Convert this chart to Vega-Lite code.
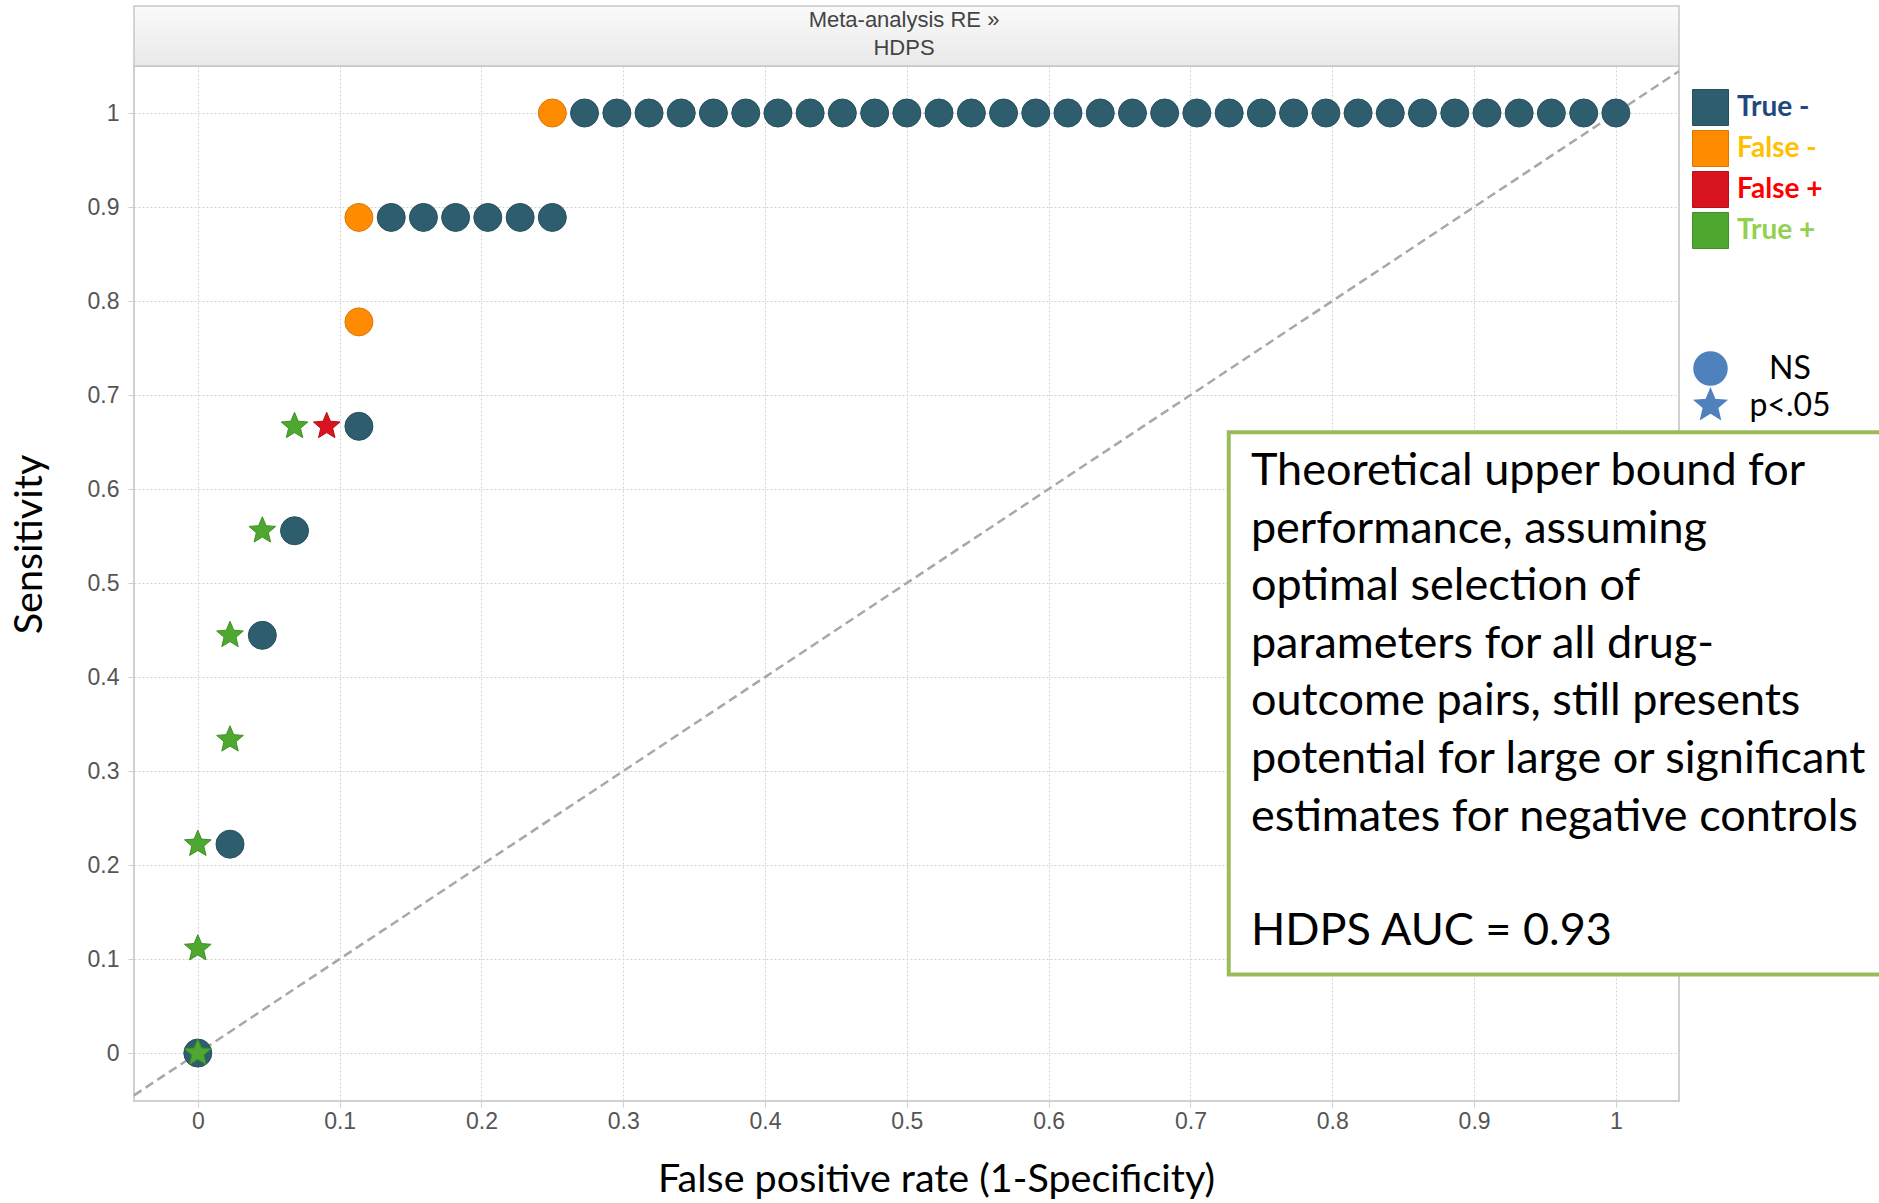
{
  "$schema": "https://vega.github.io/schema/vega-lite/v6.json",
  "width": 1545,
  "height": 1035,
  "autosize": {"type": "none"},
  "padding": {"left": 134, "top": 66, "right": 200, "bottom": 102},
  "background": "white",
  "config": {
    "view": {"stroke": "#d0d0d0", "strokeWidth": 2},
    "font": "Lato",
    "axis": {
      "labelFont": "Liberation Sans",
      "labelFontSize": 23,
      "labelColor": "#555555",
      "tickSize": 6,
      "tickColor": "#cfcfcf",
      "domain": false,
      "grid": true,
      "gridColor": "#d3d3d3",
      "gridDash": [2, 2],
      "gridWidth": 1,
      "titleFont": "Lato",
      "titleFontSize": 39.5,
      "titleFontWeight": "normal",
      "titleColor": "#000000"
    }
  },
  "datasets": {
    "roc": [
      {"fpr": 0.25, "sens": 1, "outcome": "False -", "signif": "NS"},
      {"fpr": 0.2727, "sens": 1, "outcome": "True -", "signif": "NS"},
      {"fpr": 0.2955, "sens": 1, "outcome": "True -", "signif": "NS"},
      {"fpr": 0.3182, "sens": 1, "outcome": "True -", "signif": "NS"},
      {"fpr": 0.3409, "sens": 1, "outcome": "True -", "signif": "NS"},
      {"fpr": 0.3636, "sens": 1, "outcome": "True -", "signif": "NS"},
      {"fpr": 0.3864, "sens": 1, "outcome": "True -", "signif": "NS"},
      {"fpr": 0.4091, "sens": 1, "outcome": "True -", "signif": "NS"},
      {"fpr": 0.4318, "sens": 1, "outcome": "True -", "signif": "NS"},
      {"fpr": 0.4545, "sens": 1, "outcome": "True -", "signif": "NS"},
      {"fpr": 0.4773, "sens": 1, "outcome": "True -", "signif": "NS"},
      {"fpr": 0.5, "sens": 1, "outcome": "True -", "signif": "NS"},
      {"fpr": 0.5227, "sens": 1, "outcome": "True -", "signif": "NS"},
      {"fpr": 0.5455, "sens": 1, "outcome": "True -", "signif": "NS"},
      {"fpr": 0.5682, "sens": 1, "outcome": "True -", "signif": "NS"},
      {"fpr": 0.5909, "sens": 1, "outcome": "True -", "signif": "NS"},
      {"fpr": 0.6136, "sens": 1, "outcome": "True -", "signif": "NS"},
      {"fpr": 0.6364, "sens": 1, "outcome": "True -", "signif": "NS"},
      {"fpr": 0.6591, "sens": 1, "outcome": "True -", "signif": "NS"},
      {"fpr": 0.6818, "sens": 1, "outcome": "True -", "signif": "NS"},
      {"fpr": 0.7045, "sens": 1, "outcome": "True -", "signif": "NS"},
      {"fpr": 0.7273, "sens": 1, "outcome": "True -", "signif": "NS"},
      {"fpr": 0.75, "sens": 1, "outcome": "True -", "signif": "NS"},
      {"fpr": 0.7727, "sens": 1, "outcome": "True -", "signif": "NS"},
      {"fpr": 0.7955, "sens": 1, "outcome": "True -", "signif": "NS"},
      {"fpr": 0.8182, "sens": 1, "outcome": "True -", "signif": "NS"},
      {"fpr": 0.8409, "sens": 1, "outcome": "True -", "signif": "NS"},
      {"fpr": 0.8636, "sens": 1, "outcome": "True -", "signif": "NS"},
      {"fpr": 0.8864, "sens": 1, "outcome": "True -", "signif": "NS"},
      {"fpr": 0.9091, "sens": 1, "outcome": "True -", "signif": "NS"},
      {"fpr": 0.9318, "sens": 1, "outcome": "True -", "signif": "NS"},
      {"fpr": 0.9545, "sens": 1, "outcome": "True -", "signif": "NS"},
      {"fpr": 0.9773, "sens": 1, "outcome": "True -", "signif": "NS"},
      {"fpr": 1, "sens": 1, "outcome": "True -", "signif": "NS"},
      {"fpr": 0.1136, "sens": 0.8889, "outcome": "False -", "signif": "NS"},
      {"fpr": 0.1364, "sens": 0.8889, "outcome": "True -", "signif": "NS"},
      {"fpr": 0.1591, "sens": 0.8889, "outcome": "True -", "signif": "NS"},
      {"fpr": 0.1818, "sens": 0.8889, "outcome": "True -", "signif": "NS"},
      {"fpr": 0.2045, "sens": 0.8889, "outcome": "True -", "signif": "NS"},
      {"fpr": 0.2273, "sens": 0.8889, "outcome": "True -", "signif": "NS"},
      {"fpr": 0.25, "sens": 0.8889, "outcome": "True -", "signif": "NS"},
      {"fpr": 0.1136, "sens": 0.7778, "outcome": "False -", "signif": "NS"},
      {"fpr": 0.1136, "sens": 0.6667, "outcome": "True -", "signif": "NS"},
      {"fpr": 0.0682, "sens": 0.5556, "outcome": "True -", "signif": "NS"},
      {"fpr": 0.0455, "sens": 0.4444, "outcome": "True -", "signif": "NS"},
      {"fpr": 0.0227, "sens": 0.2222, "outcome": "True -", "signif": "NS"},
      {"fpr": 0, "sens": 0, "outcome": "True -", "signif": "NS"},
      {"fpr": 0.0682, "sens": 0.6667, "outcome": "True +", "signif": "p<.05"},
      {"fpr": 0.0909, "sens": 0.6667, "outcome": "False +", "signif": "p<.05"},
      {"fpr": 0.0455, "sens": 0.5556, "outcome": "True +", "signif": "p<.05"},
      {"fpr": 0.0227, "sens": 0.4444, "outcome": "True +", "signif": "p<.05"},
      {"fpr": 0.0227, "sens": 0.3333, "outcome": "True +", "signif": "p<.05"},
      {"fpr": 0, "sens": 0.2222, "outcome": "True +", "signif": "p<.05"},
      {"fpr": 0, "sens": 0.1111, "outcome": "True +", "signif": "p<.05"},
      {"fpr": 0, "sens": 0, "outcome": "True +", "signif": "p<.05"}
    ]
  },
  "layer": [
    {
      "data": {"values": [{}]},
      "mark": {
        "type": "rect",
        "stroke": "#c8c8c8",
        "strokeWidth": 1.5,
        "fill": {
          "gradient": "linear",
          "x1": 0, "y1": 0, "x2": 0, "y2": 1,
          "stops": [
            {"offset": 0, "color": "#fafafa"},
            {"offset": 1, "color": "#e9e9e9"}
          ]
        }
      },
      "encoding": {
        "x": {"datum": -0.045, "type": "quantitative", "scale": {"domain": [-0.045, 1.0445], "nice": false, "zero": false}},
        "x2": {"datum": 1.0445},
        "y": {"datum": 1.05, "type": "quantitative", "scale": {"domain": [-0.051, 1.05], "nice": false, "zero": false}},
        "y2": {"datum": 1.1138}
      }
    },
    {
      "data": {"values": [{}]},
      "mark": {
        "type": "text",
        "text": ["Meta-analysis RE »", "HDPS"],
        "font": "Liberation Sans",
        "fontSize": 22,
        "lineHeight": 28,
        "color": "#444444",
        "align": "center",
        "baseline": "middle"
      },
      "encoding": {
        "x": {"datum": 0.498, "type": "quantitative", "scale": {"domain": [-0.045, 1.0445], "nice": false, "zero": false}},
        "y": {"datum": 1.0989, "type": "quantitative", "scale": {"domain": [-0.051, 1.05], "nice": false, "zero": false}}
      }
    },
    {
      "data": {"values": [{}]},
      "mark": {"type": "rule", "color": "#a8a8a8", "strokeWidth": 2.5, "strokeDash": [9, 5]},
      "encoding": {
        "x": {"datum": -0.045, "type": "quantitative", "scale": {"domain": [-0.045, 1.0445], "nice": false, "zero": false}},
        "x2": {"datum": 1.0445},
        "y": {"datum": -0.045, "type": "quantitative", "scale": {"domain": [-0.051, 1.05], "nice": false, "zero": false}},
        "y2": {"datum": 1.0445}
      }
    },
    {
      "data": {"name": "roc"},
      "mark": {"type": "point", "filled": true, "size": 784, "strokeWidth": 1, "opacity": 1},
      "encoding": {
        "x": {
          "field": "fpr", "type": "quantitative",
          "scale": {"domain": [-0.045, 1.0445], "nice": false, "zero": false},
          "axis": {
            "title": "False positive rate (1-Specificity)",
            "values": [0, 0.1, 0.2, 0.3, 0.4, 0.5, 0.6, 0.7, 0.8, 0.9, 1],
            "format": ".1~f",
            "labelPadding": 3,
            "titleX": 802, "titleY": 90, "titleBaseline": "alphabetic"
          }
        },
        "y": {
          "field": "sens", "type": "quantitative",
          "scale": {"domain": [-0.051, 1.05], "nice": false, "zero": false},
          "axis": {
            "title": "Sensitivity",
            "values": [0, 0.1, 0.2, 0.3, 0.4, 0.5, 0.6, 0.7, 0.8, 0.9, 1],
            "format": ".1~f",
            "labelPadding": 9,
            "titleX": -105, "titleY": 478, "titleBaseline": "middle"
          }
        },
        "fill": {
          "field": "outcome", "type": "nominal",
          "scale": {"domain": ["True -", "False -", "False +", "True +"], "range": ["#2e5e6e", "#ff8c00", "#d8141e", "#4ea72e"]},
          "legend": {
            "title": null, "orient": "none", "legendX": 1558, "legendY": 23, "padding": 0,
            "symbolType": "square", "symbolSize": 1296, "symbolStrokeWidth": 1, "symbolStrokeColor": "#5a5a5a", "symbolOpacity": 1,
            "labelFont": "Lato", "labelFontSize": 28, "labelFontWeight": "bold", "labelOffset": 8, "rowPadding": 0,
            "encoding": {
              "labels": {
                "fill": {"value": {"expr": "datum.label == 'True -' ? '#1f497d' : datum.label == 'False -' ? '#ffc000' : datum.label == 'False +' ? '#ff0000' : '#92d050'"}}
              }
            }
          }
        },
        "stroke": {
          "field": "outcome", "type": "nominal",
          "scale": {"domain": ["True -", "False -", "False +", "True +"], "range": ["#26505e", "#d9770a", "#b81018", "#3f9024"]},
          "legend": null
        },
        "shape": {
          "field": "signif", "type": "nominal",
          "scale": {"domain": ["NS", "p<.05"], "range": ["circle", "M0,-1L0.2645,-0.3641L0.9511,-0.309L0.428,0.1391L0.5878,0.809L0,0.45L-0.5878,0.809L-0.428,0.1391L-0.9511,-0.309L-0.2645,-0.3641Z"]},
          "legend": {
            "title": null, "orient": "none", "legendX": 1559, "legendY": 285, "padding": 0,
            "symbolSize": 1089, "symbolFillColor": "#4f81bd", "symbolStrokeColor": "#4f81bd", "symbolOpacity": 1,
            "labelFont": "Lato", "labelFontSize": 32, "labelColor": "#000000", "labelAlign": "center", "labelOffset": 62, "rowPadding": -4
          }
        }
      }
    },
    {
      "data": {"values": [{}]},
      "mark": {"type": "rect", "fill": "white", "stroke": "#9bbb59", "strokeWidth": 4},
      "encoding": {
        "x": {"datum": 0.727, "type": "quantitative", "scale": {"domain": [-0.045, 1.0445], "nice": false, "zero": false}},
        "x2": {"datum": 1.35},
        "y": {"datum": 0.6605, "type": "quantitative", "scale": {"domain": [-0.051, 1.05], "nice": false, "zero": false}},
        "y2": {"datum": 0.0835}
      }
    },
    {
      "data": {"values": [{}]},
      "mark": {
        "type": "text",
        "text": [
          "Theoretical upper bound for",
          "performance, assuming",
          "optimal selection of",
          "parameters for all drug-",
          "outcome pairs, still presents",
          "potential for large or significant",
          "estimates for negative controls"
        ],
        "font": "Lato",
        "fontSize": 45,
        "lineHeight": 57.6,
        "color": "#000000",
        "align": "left",
        "baseline": "alphabetic"
      },
      "encoding": {
        "x": {"datum": 0.7426, "type": "quantitative", "scale": {"domain": [-0.045, 1.0445], "nice": false, "zero": false}},
        "y": {"datum": 0.6043, "type": "quantitative", "scale": {"domain": [-0.051, 1.05], "nice": false, "zero": false}}
      }
    },
    {
      "data": {"values": [{}]},
      "mark": {
        "type": "text",
        "text": "HDPS AUC = 0.93",
        "font": "Lato",
        "fontSize": 45,
        "color": "#000000",
        "align": "left",
        "baseline": "alphabetic"
      },
      "encoding": {
        "x": {"datum": 0.7426, "type": "quantitative", "scale": {"domain": [-0.045, 1.0445], "nice": false, "zero": false}},
        "y": {"datum": 0.1149, "type": "quantitative", "scale": {"domain": [-0.051, 1.05], "nice": false, "zero": false}}
      }
    }
  ]
}
